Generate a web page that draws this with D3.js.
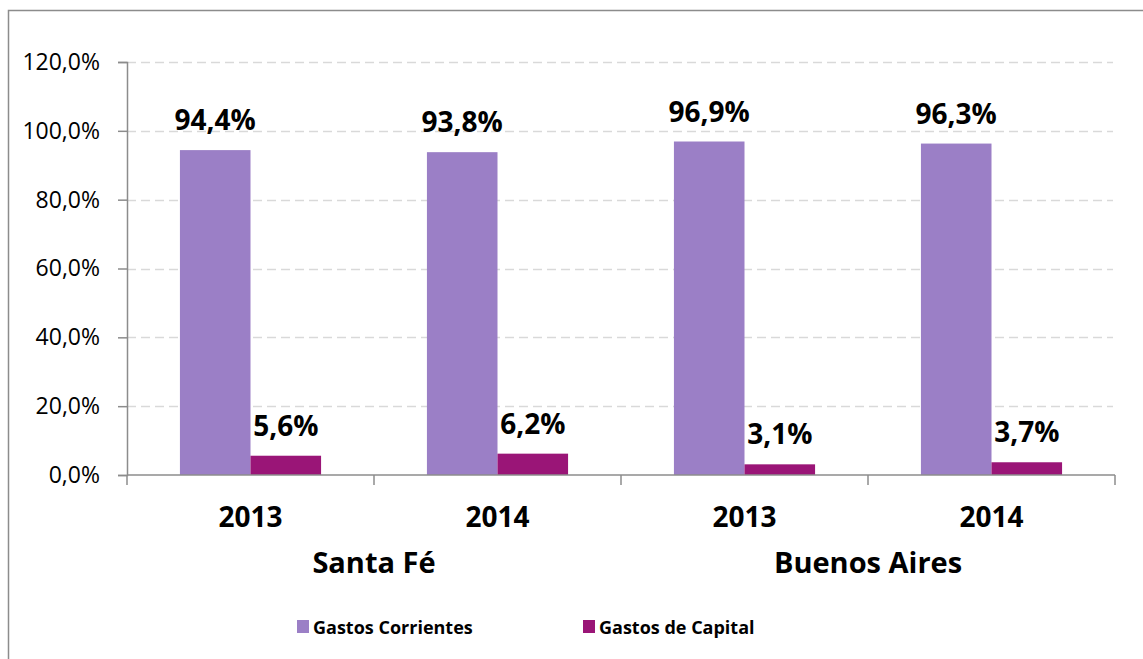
<!DOCTYPE html>
<html>
<head>
<meta charset="utf-8">
<script src="https://cdnjs.cloudflare.com/ajax/libs/d3/7.8.5/d3.min.js"></script>
<style>
  body { margin: 0; background: #fff; }
  svg { font-family: 'Open Sans', 'Noto Sans', sans-serif; }
</style>
</head>
<body>
<div class="canvas"></div>
<script>
// DATA
const groups = ['Santa Fé', 'Buenos Aires'];
const years = ['2013', '2014'];
const seriesNames = ['Gastos Corrientes', 'Gastos de Capital'];
const corrientes = [94.4, 93.8, 96.9, 96.3];
const capital = [5.6, 6.2, 3.1, 3.7];
const yTicks = [0, 20, 40, 60, 80, 100, 120];

const colors = ['#9b7fc6', '#9a1577'];

const W = 1143, H = 659;
const margin = { left: 127, right: 28, top: 62, bottom: 184 };

const svg = d3.select('.canvas').append('svg')
  .attr('width', W)
  .attr('height', H);

// outer border (chart area, cropped on right and bottom)
svg.append('path')
  .attr('d', `M8.5,${H + 5}V10.5H${W + 5}`)
  .attr('fill', 'none')
  .attr('stroke', '#8c8c8c')
  .attr('stroke-width', 1.5);

// category keys
const cats = [];
groups.forEach((g) => years.forEach((yr) => cats.push({ group: g, year: yr })));
cats.forEach((c, i) => {
  c.key = i;
  c.values = [corrientes[i], capital[i]];
});

const x = d3.scaleBand()
  .domain(cats.map((c) => c.key))
  .range([margin.left, W - margin.right]);

const inner = d3.scaleBand()
  .domain([0, 1])
  .range([0, x.bandwidth()])
  .paddingOuter(0.75)
  .paddingInner(0);

const y = d3.scaleLinear()
  .domain([0, 120])
  .range([H - margin.bottom, margin.top]);

// GRIDLINES
svg.append('g')
  .selectAll('line')
  .data(yTicks.filter((t) => t > 0))
  .join('line')
  .attr('x1', margin.left)
  .attr('x2', W - margin.right - 2)
  .attr('y1', (d) => Math.round(y(d)) + 0.5)
  .attr('y2', (d) => Math.round(y(d)) + 0.5)
  .attr('stroke', '#d9d9d9')
  .attr('stroke-width', 1.5)
  .attr('stroke-dasharray', '9,5');

// Y AXIS
const fmt = (d) => d.toFixed(1).replace('.', ',') + '%';
const yAxis = svg.append('g')
  .attr('transform', `translate(${margin.left},0)`)
  .call(d3.axisLeft(y).tickValues(yTicks).tickFormat(fmt).tickSize(9).tickPadding(18));
yAxis.select('.domain').attr('stroke', '#8c8c8c').attr('stroke-width', 1.5);
yAxis.selectAll('.tick line').attr('stroke', '#8c8c8c').attr('stroke-width', 1.5);
yAxis.selectAll('.tick text')
  .attr('font-size', 23)
  .attr('fill', '#000')
  .attr('font-family', "'Open Sans', sans-serif");

// BARS
const bars = svg.append('g');
cats.forEach((c) => {
  const g = bars.append('g').attr('transform', `translate(${x(c.key)},0)`);
  g.selectAll('rect')
    .data(c.values)
    .join('rect')
    .attr('x', (d, i) => inner(i))
    .attr('width', inner.bandwidth())
    .attr('y', (d) => y(d))
    .attr('height', (d) => y(0) - y(d))
    .attr('fill', (d, i) => colors[i]);
  g.selectAll('text')
    .data(c.values)
    .join('text')
    .attr('x', (d, i) => inner(i) + inner.bandwidth() / 2)
    .attr('y', (d) => y(d) - 20)
    .attr('text-anchor', 'middle')
    .attr('font-size', 28)
    .attr('font-weight', 'bold')
    .attr('fill', '#000')
    .text((d) => d.toFixed(1).replace('.', ',') + '%');
});

// X AXIS
const xAxis = svg.append('g');
xAxis.append('line')
  .attr('x1', margin.left)
  .attr('x2', W - margin.right)
  .attr('y1', y(0))
  .attr('y2', y(0))
  .attr('stroke', '#8c8c8c')
  .attr('stroke-width', 1.5);
const bounds = cats.map((c) => x(c.key)).concat([x.range()[1]]);
xAxis.selectAll('line.tk')
  .data(bounds)
  .join('line')
  .attr('class', 'tk')
  .attr('x1', (d) => d)
  .attr('x2', (d) => d)
  .attr('y1', y(0))
  .attr('y2', y(0) + 10)
  .attr('stroke', '#8c8c8c')
  .attr('stroke-width', 1.5);

xAxis.selectAll('text.yr')
  .data(cats)
  .join('text')
  .attr('class', 'yr')
  .attr('x', (c) => x(c.key) + x.bandwidth() / 2)
  .attr('y', y(0) + 52)
  .attr('text-anchor', 'middle')
  .attr('font-size', 28)
  .attr('font-weight', 'bold')
  .text((c) => c.year);

xAxis.selectAll('text.grp')
  .data(groups)
  .join('text')
  .attr('class', 'grp')
  .attr('x', (g, i) => x(i * years.length) + x.bandwidth() * years.length / 2)
  .attr('y', y(0) + 98)
  .attr('text-anchor', 'middle')
  .attr('font-size', 29)
  .attr('font-weight', 'bold')
  .text((g) => g);

// LEGEND
const legendX = [297, 583];
const legend = svg.append('g');
seriesNames.forEach((name, i) => {
  legend.append('rect')
    .attr('x', legendX[i])
    .attr('y', 620)
    .attr('width', 12)
    .attr('height', 13)
    .attr('fill', colors[i]);
  legend.append('text')
    .attr('x', legendX[i] + 16)
    .attr('y', 634)
    .attr('font-size', 18)
    .attr('font-weight', 'bold')
    .text(name);
});
</script>
</body>
</html>
